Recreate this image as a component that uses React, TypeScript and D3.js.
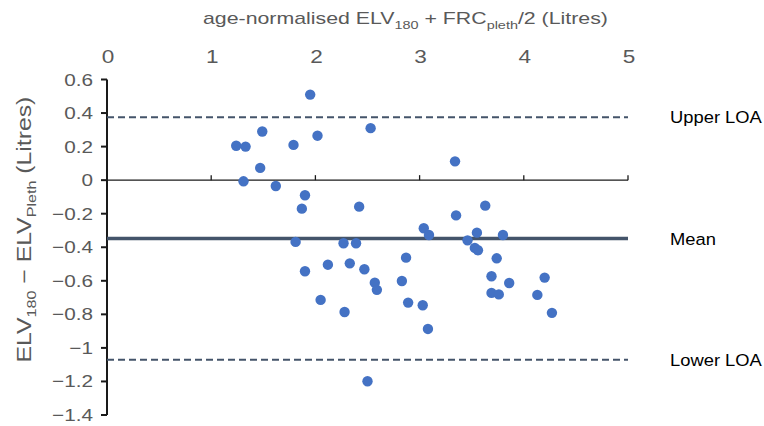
import React, { useEffect, useRef } from 'react';
import * as d3 from 'd3';

// mean of the two methods (Litres)
const meanValues = [
  1.24, 1.33, 1.49, 1.79, 1.95, 2.02, 2.53, 1.47, 1.31, 1.62,
  1.90, 1.87, 2.42, 3.34, 3.63, 3.35, 1.81, 1.90, 2.12, 2.27,
  2.39, 2.33, 2.47, 2.05, 2.28, 2.57, 2.59, 2.50, 3.04, 3.09,
  3.46, 3.55, 3.80, 3.53, 3.56, 2.87, 3.74, 2.83, 3.69, 3.86,
  4.20, 3.69, 3.76, 4.13, 2.89, 3.03, 4.27, 3.08,
];
// difference ELV180 - ELVpleth (Litres)
const diffValues = [
  0.205, 0.20, 0.29, 0.21, 0.51, 0.265, 0.31, 0.073, -0.007, -0.035,
  -0.09, -0.17, -0.158, 0.112, -0.152, -0.21, -0.368, -0.543, -0.504, -0.376,
  -0.376, -0.496, -0.531, -0.714, -0.786, -0.611, -0.654, -1.199, -0.287, -0.327,
  -0.359, -0.313, -0.327, -0.404, -0.418, -0.462, -0.466, -0.601, -0.573, -0.613,
  -0.581, -0.672, -0.681, -0.684, -0.730, -0.746, -0.791, -0.887,
];

const xTicks = [0, 1, 2, 3, 4, 5];
const yTicks = [0.6, 0.4, 0.2, 0, -0.2, -0.4, -0.6, -0.8, -1, -1.2, -1.4];

const meanDiff = -0.348;
const upperLOA = 0.375;
const lowerLOA = -1.07;
const refLines = [
  { label: 'Upper LOA', value: upperLOA, dashed: true },
  { label: 'Mean', value: meanDiff, dashed: false },
  { label: 'Lower LOA', value: lowerLOA, dashed: true },
];

const points = meanValues.map((m, i) => ({ x: m, y: diffValues[i] }));

const App = () => {
  const chartRef = useRef<SVGSVGElement | null>(null);

  useEffect(() => {
    const width = 764;
    const height = 426;
    const left = 107;
    const right = 628;
    const top = 79.5;
    const bottom = 415;
    const font = "'Liberation Sans', Arial, Helvetica, sans-serif";
    const grey = '#595959';
    const stretch = 1.22; // reference text is a bit wider than Liberation Sans

    const svg = d3.select(chartRef.current);
    svg.selectAll('*').remove();
    svg.attr('width', width).attr('height', height);

    const x = d3.scaleLinear().domain([0, 5]).range([left, right]);
    const y = d3.scaleLinear().domain([0.6, -1.4]).range([top, bottom]);

    // x axis sits on the zero line, ticks point up, labels at top of chart
    svg.append('line')
      .attr('x1', x(0)).attr('x2', x(5))
      .attr('y1', y(0)).attr('y2', y(0))
      .attr('stroke', '#1a1a1a').attr('stroke-width', 1.3);

    svg.selectAll('.xtick').data(xTicks.filter(d => d > 0)).join('line')
      .attr('x1', d => x(d)).attr('x2', d => x(d))
      .attr('y1', y(0)).attr('y2', y(0) - 5)
      .attr('stroke', '#1a1a1a').attr('stroke-width', 1.3);

    svg.selectAll('.xlabel').data(xTicks).join('text')
      .attr('transform', d => `translate(${x(d) + 1},63) scale(${stretch},1)`)
      .attr('text-anchor', 'middle')
      .attr('font-family', font)
      .attr('font-size', 18.5)
      .attr('fill', grey)
      .text(d => d);

    // y axis
    svg.append('line')
      .attr('x1', left).attr('x2', left)
      .attr('y1', y(0.6)).attr('y2', y(-1.4))
      .attr('stroke', '#1a1a1a').attr('stroke-width', 2);

    svg.selectAll('.ytick').data(yTicks).join('line')
      .attr('x1', left - 6).attr('x2', left)
      .attr('y1', d => y(d)).attr('y2', d => y(d))
      .attr('stroke', '#1a1a1a').attr('stroke-width', 2);

    const fmt = d3.format('~g');
    svg.selectAll('.ylabel').data(yTicks).join('text')
      .attr('transform', d => `translate(93,${y(d) + 6}) scale(${stretch},1)`)
      .attr('text-anchor', 'end')
      .attr('font-family', font)
      .attr('font-size', 17)
      .attr('fill', grey)
      .text(d => fmt(d));

    // reference lines
    svg.selectAll('.ref').data(refLines).join('line')
      .attr('x1', x(0)).attr('x2', x(5))
      .attr('y1', d => y(d.value)).attr('y2', d => y(d.value))
      .attr('stroke', '#44546A')
      .attr('stroke-width', d => d.dashed ? 2 : 3.5)
      .attr('stroke-dasharray', d => d.dashed ? '7,4' : null);

    svg.selectAll('.reflabel').data(refLines).join('text')
      .attr('transform', d => `translate(670,${y(d.value) + 6}) scale(1.08,1)`)
      .attr('font-family', font)
      .attr('font-size', 17)
      .attr('fill', '#000')
      .text(d => d.label);

    // points
    svg.selectAll('.dot').data(points).join('circle')
      .attr('cx', d => x(d.x))
      .attr('cy', d => y(d.y))
      .attr('r', 5.2)
      .attr('fill', '#4472C4');

    // x title
    const xt = svg.append('text')
      .attr('transform', `translate(203,24) scale(1.255,1)`)
      .attr('font-family', font)
      .attr('font-size', 17)
      .attr('fill', grey);
    xt.append('tspan').text('age-normalised ELV');
    xt.append('tspan').attr('font-size', 11.5).attr('dy', 5).text('180');
    xt.append('tspan').attr('dy', -5).text(' + FRC');
    xt.append('tspan').attr('font-size', 11.5).attr('dy', 5).text('pleth');
    xt.append('tspan').attr('dy', -5).text('/2 (Litres)');

    // y title
    const yt = svg.append('text')
      .attr('transform', `translate(31,362.5) rotate(-90) scale(1.24,1)`)
      .attr('font-family', font)
      .attr('font-size', 20)
      .attr('fill', grey);
    yt.append('tspan').text('ELV');
    yt.append('tspan').attr('font-size', 13).attr('dy', 5).text('180');
    yt.append('tspan').attr('dy', -5).text(' \u2212 ELV');
    yt.append('tspan').attr('font-size', 13).attr('dy', 5).text('Pleth');
    yt.append('tspan').attr('dy', -5).text(' (Litres)');
  }, []);

  return (
    <svg
      ref={chartRef}
      style={{ position: 'absolute', left: 0, top: 0, background: '#fff' }}
    ></svg>
  );
};

export default App;
